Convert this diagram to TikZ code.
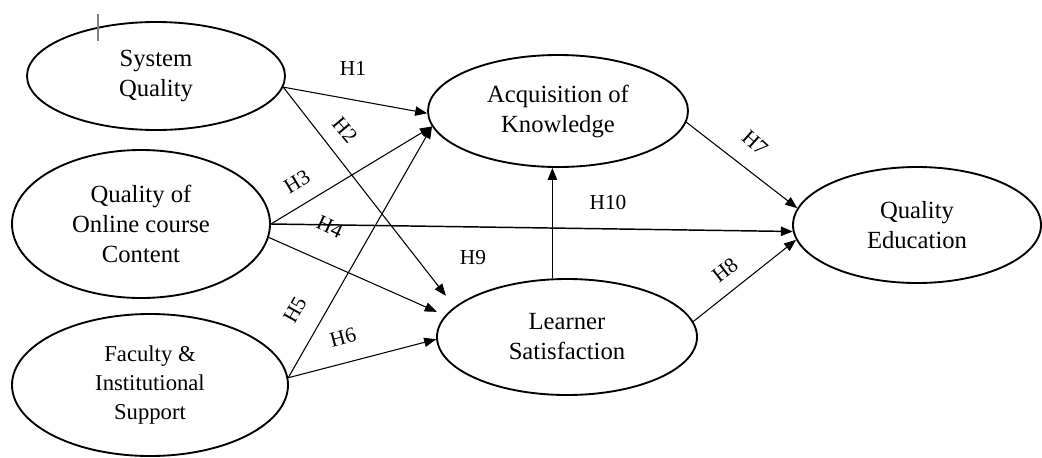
\documentclass[tikz,border=0pt]{standalone}
\usepackage{fontspec}
\setmainfont{Liberation Serif}
\usetikzlibrary{shapes.geometric,arrows.meta}
\begin{document}
\begin{tikzpicture}[x=0.75pt,y=-0.75pt,
  ell/.style={ellipse,draw,line width=1.4pt,inner sep=0pt,align=center,
    font=\fontsize{18.5}{22.5}\selectfont},
  arr/.style={-{Triangle[length=9pt,width=7pt]},line width=0.8pt},
  thickarr/.style={arr,line width=1.1pt},
  lab/.style={font=\fontsize{16}{19}\selectfont,inner sep=0pt}]
\useasboundingbox (0,0) rectangle (1042,457);
% nodes
\node[ell,minimum width=193.5pt,minimum height=81pt]  (SQ) at (156,76)  {System\\Quality};
\node[ell,minimum width=193.5pt,minimum height=111pt] (QC) at (141,224) {Quality of\\Online course\\Content};
\node[ell,minimum width=207pt,minimum height=106.5pt,font=\fontsize{17}{22}\selectfont] (FS) at (150,385) {Faculty \&\\Institutional\\Support};
\node[ell,minimum width=195pt,minimum height=84pt]    (AK) at (558,111) {Acquisition of\\Knowledge};
\node[ell,minimum width=195pt,minimum height=87pt]    (LS) at (567,337) {Learner\\Satisfaction};
\node[ell,minimum width=186pt,minimum height=87pt]    (QE) at (917,225) {Quality\\Education};
% small tick mark
\draw[gray,line width=0.8pt] (98,14) -- (98,41);
% connectors
\draw[arr] (SQ.-5) -- (AK.181);                              % H1
\draw[arr,shorten >=10.5pt] (SQ.-5) -- (LS.165.8);           % H2
\draw[arr] (QC.east) -- (AK.187);                            % H3
\draw[thickarr] (QC.east) -- (QE.183);                       % H10 line
\draw[arr,shorten >=6.75pt] (QC.-6.3) -- (LS.170.7);         % H4
\draw[arr] (FS.3) -- (AK.187);                               % H5
\draw[arr] (FS.3) -- (LS.181);                               % H6
\draw[arr] (AK.-5) -- (QE.172);                              % H7
\draw[arr] (LS.7) -- (QE.187);                               % H8
\draw[thickarr] (LS.104) -- (LS.104 |- AK.south);            % H9
% labels
\node[lab] (l1) at (353,68) {H1};
\node[lab,rotate=-50] (l2) at (345,130) {H2};
\node[lab,rotate=31] (l3) at (297,182) {H3};
\node[lab,rotate=-25] (l4) at (330,227) {H4};
\node[lab,rotate=61] (l5) at (295,310) {H5};
\node[lab,rotate=15] (l6) at (343,337) {H6};
\node[lab,rotate=-42] (l7) at (755,143) {H7};
\node[lab,rotate=38] (l8) at (725,270) {H8};
\node[lab] (l9) at (473,258) {H9};
\node[lab] (l10) at (608,203) {H10};
\end{tikzpicture}
\end{document}
